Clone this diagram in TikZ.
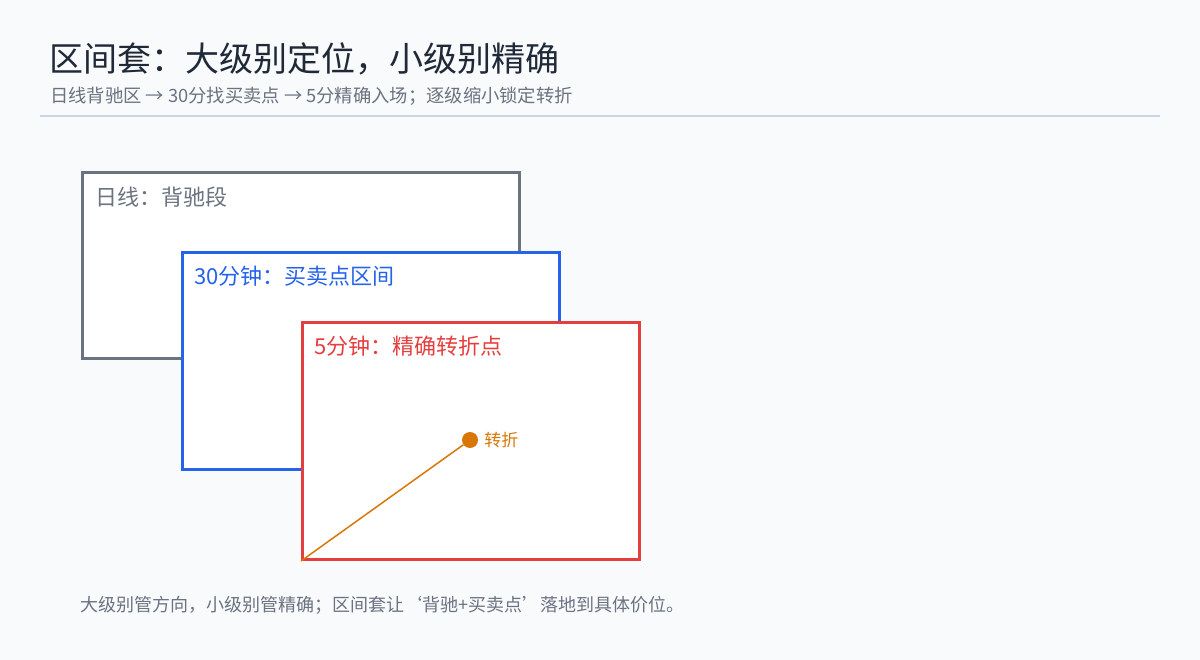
\documentclass[tikz,border=0pt]{standalone}
\usepackage{fontspec}
\setmainfont{Noto Sans CJK SC}
\usetikzlibrary{positioning}
\definecolor{bgcol}{HTML}{F8FAFC}
\definecolor{titlecol}{HTML}{1F2937}
\definecolor{mutedcol}{HTML}{6B7280}
\definecolor{rulecol}{HTML}{CBD5E1}
\definecolor{daycol}{HTML}{6B7280}
\definecolor{midcol}{HTML}{2563EB}
\definecolor{fivecol}{HTML}{E53E3E}
\definecolor{turncol}{HTML}{D97706}
\tikzset{panel/.style={draw, line width=3pt, fill=white, anchor=north west, inner sep=0pt}}
\tikzset{panellbl/.style={anchor=west, inner sep=0pt, font=\fontsize{22}{26}\selectfont}}
\begin{document}
\begin{tikzpicture}[x=1pt,y=-1pt]
		\fill[bgcol] (0,0) rectangle (1200,660);
		\useasboundingbox (0,0) rectangle (1200,660);
		\node[anchor=west, inner sep=0pt, text=titlecol, font=\fontsize{34}{40}\selectfont] (title) at (49,59) {区间套：大级别定位，小级别精确};
		\node[anchor=west, inner sep=0pt, text=mutedcol, font=\fontsize{18.3}{22}\selectfont] (subtitle) at (50,96) {日线背驰区 → 30分找买卖点 → 5分精确入场；逐级缩小锁定转折};
		\coordinate (ruleL) at (40,116);
		\coordinate (ruleR) at (1160,116);
		\draw[rulecol, line width=1.5pt] (ruleL) -- (ruleR);
		\node[panel, draw=daycol, minimum width=437pt, minimum height=186pt] (dayBox) at (81,171) {};
		\node[panellbl, text=daycol] (dayLbl) at (95,197) {日线：背驰段};
		\node[panel, draw=midcol, minimum width=377pt, minimum height=217pt] (midBox) at (181,251) {};
		\node[panellbl, text=midcol] (midLbl) at (194,276) {30分钟：买卖点区间};
		\node[panel, draw=fivecol, minimum width=337pt, minimum height=237pt] (fiveBox) at (301,321) {};
		\node[panellbl, text=fivecol] (fiveLbl) at (314,346) {5分钟：精确转折点};
		\node[circle, fill=turncol, inner sep=0pt, minimum size=16pt] (turn) at (470,440) {};
		\draw[turncol, line width=1.5pt] (fiveBox.south west) -- (turn);
		\node[anchor=west, inner sep=0pt, text=turncol, font=\fontsize{17}{20}\selectfont, right=6pt of turn] (turnLbl) {转折};
		\node[anchor=west, inner sep=0pt, text=mutedcol, font=\fontsize{18}{22}\selectfont] (note) at (80,605) {大级别管方向，小级别管精确；区间套让‘背驰+买卖点’落地到具体价位。};
	\end{tikzpicture}
\end{document}
